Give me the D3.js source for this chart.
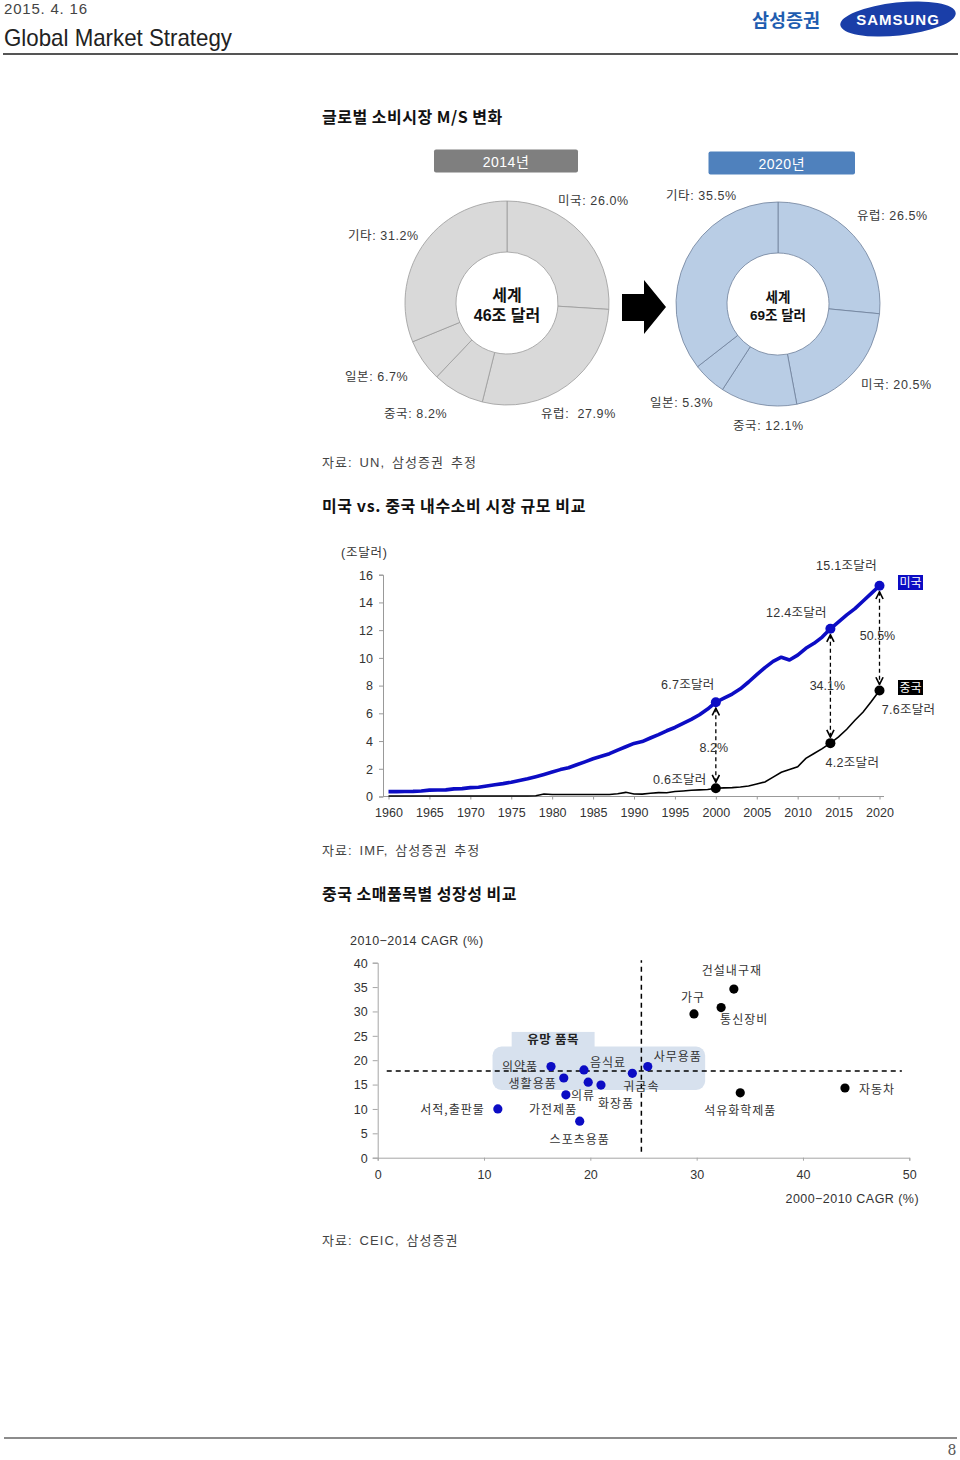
<!DOCTYPE html>
<html><head><meta charset="utf-8">
<script src="https://cdn.jsdelivr.net/npm/d3@7/dist/d3.min.js"></script>
<style>
body{margin:0;background:#fff}
svg{display:block}
text{font-family:"Liberation Sans","Noto Sans CJK KR",sans-serif}
</style>
</head><body>
<svg id="c" width="960" height="1460"></svg>
<script>
// ---------------- DATA ----------------
const share2014Labels = ["미국: 26.0%", "유럽:  27.9%", "중국: 8.2%", "일본: 6.7%", "기타: 31.2%"];
const share2014Values = [26.0, 27.9, 8.2, 6.7, 31.2];
const share2020Labels = ["유럽: 26.5%", "미국: 20.5%", "중국: 12.1%", "일본: 5.3%", "기타: 35.5%"];
const share2020Values = [26.5, 20.5, 12.1, 5.3, 35.5];

const years = [1960,1961,1962,1963,1964,1965,1966,1967,1968,1969,1970,1971,1972,1973,1974,1975,1976,1977,1978,1979,
  1980,1981,1982,1983,1984,1985,1986,1987,1988,1989,1990,1991,1992,1993,1994,1995,1996,1997,1998,1999,
  2000,2001,2002,2003,2004,2005,2006,2007,2008,2009,2010,2011,2012,2013,2014,2015,2016,2017,2018,2019,2020];
const usConsumption = [0.35,0.35,0.36,0.37,0.40,0.46,0.47,0.48,0.55,0.57,0.64,0.67,0.76,0.85,0.93,1.03,1.15,1.28,1.43,1.59,
  1.76,1.94,2.07,2.29,2.50,2.72,2.90,3.09,3.35,3.59,3.83,3.96,4.22,4.47,4.74,4.98,5.27,5.56,5.90,6.31,
  6.80,7.10,7.39,7.77,8.26,8.79,9.30,9.75,10.05,9.85,10.20,10.69,11.05,11.50,12.10,12.60,13.10,13.55,14.10,14.65,15.20];
const chinaConsumption = [0.04,0.04,0.04,0.04,0.04,0.04,0.04,0.04,0.04,0.04,0.04,0.04,0.04,0.04,0.04,0.04,0.04,0.04,0.05,0.18,
  0.14,0.14,0.14,0.14,0.14,0.14,0.14,0.14,0.20,0.30,0.18,0.17,0.24,0.28,0.27,0.36,0.40,0.45,0.48,0.50,
  0.60,0.62,0.64,0.68,0.76,0.90,1.05,1.40,1.75,1.95,2.15,2.75,3.10,3.45,3.85,4.30,4.85,5.50,6.10,6.85,7.65];
const lineYTicks = [0,2,4,6,8,10,12,14,16];
const lineXTicks = [1960,1965,1970,1975,1980,1985,1990,1995,2000,2005,2010,2015,2020];
const markYears = [2000, 2014, 2020];
const usMarkLabels = ["6.7조달러", "12.4조달러", "15.1조달러"];
const chinaMarkLabels = ["0.6조달러", "4.2조달러", "7.6조달러"];
const gapLabels = ["8.2%", "34.1%", "50.5%"];

const itemNames = ["의약품","음식료","생활용품","의류","가전제품","화장품","스포츠용품","서적,출판물","귀금속","사무용품",
  "건설내구재","가구","통신장비","석유화학제품","자동차"];
const itemCagr0010 = [16.3,19.4,17.5,17.7,19.8,21.0,19.0,11.3,23.95,25.4,33.5,29.75,32.3,34.1,43.95];
const itemCagr1014 = [18.7,18.0,16.35,12.9,15.5,14.9,7.5,10.0,17.3,18.7,34.6,29.5,30.8,13.3,14.3];
const itemPromising = [true,true,true,true,true,true,true,true,true,true,false,false,false,false,false];
const scatterTicksX = [0,10,20,30,40,50];
const scatterTicksY = [0,5,10,15,20,25,30,35,40];
const thresholdX = 24.8;
const thresholdY = 17.8;

// ---------------- LAYOUT ----------------
const svg = d3.select("#c");
svg.append("rect").attr("width",960).attr("height",1460).attr("fill","#fff");
const TXT = "#333";

// header
svg.append("text").attr("x",4).attr("y",14).attr("font-size",15).attr("fill","#444").attr("textLength",83)
  .attr("lengthAdjust","spacing")
  .style("font-family","'Liberation Sans Narrow','Liberation Sans'").text("2015. 4. 16");
svg.append("text").attr("x",4).attr("y",46).attr("font-size",24).attr("fill","#222")
  .attr("textLength",228).attr("lengthAdjust","spacingAndGlyphs")
  .style("font-family","'Liberation Sans Narrow','Liberation Sans'").text("Global Market Strategy");
svg.append("line").attr("x1",3).attr("x2",958).attr("y1",54).attr("y2",54).attr("stroke","#555").attr("stroke-width",2);
svg.append("text").attr("x",752).attr("y",27).attr("font-size",18).attr("font-weight","bold").attr("fill","#1f5db0")
  .attr("textLength",68).attr("lengthAdjust","spacingAndGlyphs")
  .style("font-family","'Noto Sans CJK KR'").text("삼성증권");
svg.append("ellipse").attr("cx",898).attr("cy",19).attr("rx",58).attr("ry",16.5)
  .attr("transform","rotate(-6,898,19)").attr("fill","#1a3ea8");
svg.append("text").attr("x",898).attr("y",25).attr("text-anchor","middle").attr("font-size",15).attr("font-weight","bold")
  .attr("fill","#fff").attr("letter-spacing",1).text("SAMSUNG");

// footer
svg.append("line").attr("x1",4).attr("x2",957).attr("y1",1438).attr("y2",1438).attr("stroke","#666").attr("stroke-width",1.5);
svg.append("text").attr("x",952).attr("y",1455).attr("text-anchor","middle").attr("font-size",14).attr("fill","#555")
  .style("font-family","'DejaVu Serif'").text("8");

function title(y, t, ls){
  svg.append("text").attr("x",322).attr("y",y).attr("font-size",16).attr("font-weight","bold").attr("fill","#111")
    .attr("letter-spacing",ls).style("font-family","'Noto Sans CJK KR'").text(t);
}
function source(y, t){
  svg.append("text").attr("x",322).attr("y",y).attr("font-size",13).attr("fill","#444").attr("letter-spacing",1.1)
    .attr("word-spacing",2).text(t);
}

// ---------------- SECTION 1: DONUTS ----------------
title(123, "글로벌 소비시장 M/S 변화", 0.5);

function donut(cx, cy, values, labels, fill, stroke, header, headerFill, center, centerSize, labelPos){
  const g = svg.append("g");
  g.append("rect").attr("x",header[0]).attr("y",header[1]).attr("width",header[2]).attr("height",23)
    .attr("rx",2).attr("fill",headerFill);
  g.append("text").attr("x",header[0]+header[2]/2).attr("y",header[1]+17).attr("text-anchor","middle")
    .attr("font-size",14).attr("fill","#fff").attr("letter-spacing",0.5).text(header[3]);
  const pie = d3.pie().sort(null)(values);
  const arc = d3.arc().innerRadius(51).outerRadius(102);
  g.selectAll("path.s").data(pie).join("path").attr("class","s")
    .attr("transform",`translate(${cx},${cy})`).attr("d",arc)
    .attr("fill",fill).attr("stroke",stroke).attr("stroke-width",0.8);
  g.append("text").attr("x",cx).attr("y",cy-2).attr("text-anchor","middle").attr("font-size",centerSize)
    .attr("font-weight","bold").attr("fill","#111").text("세계");
  g.append("text").attr("x",cx).attr("y",cy+centerSize+2).attr("text-anchor","middle").attr("font-size",centerSize)
    .attr("font-weight","bold").attr("fill","#111").text(center);
  labels.forEach((l,i)=>{
    g.append("text").attr("x",labelPos[i][0]).attr("y",labelPos[i][1]).attr("font-size",12.5)
      .attr("letter-spacing",0.6)
      .attr("fill","#3a3a3a").attr("xml:space","preserve").style("white-space","pre").text(l);
  });
}
donut(507, 303, share2014Values, share2014Labels, "#d9d9d9", "#9a9a9a",
  [434,149.5,144,"2014년"], "#7f7f7f", "46조 달러", 16,
  [[558,205],[541,418],[384,418],[345,381],[348,240]]);
donut(778, 304, share2020Values, share2020Labels, "#b9cde5", "#6f809a",
  [708.5,151.5,146.5,"2020년"], "#4f81bd", "69조 달러", 13.5,
  [[857,220],[861,389],[733,430],[650,407],[666,200]]);

// arrow
svg.append("path").attr("d","M622,294 L644,294 L644,280 L666,307 L644,334 L644,321 L622,321 Z").attr("fill","#000");

source(467, "자료: UN, 삼성증권 추정");

// ---------------- SECTION 2: LINE CHART ----------------
title(512, "미국 vs. 중국 내수소비 시장 규모 비교", 0.6);

const lx = d3.scaleLinear().domain([1960,2020]).range([388.5,879.5]);
const ly = d3.scaleLinear().domain([0,16]).range([796.5,574.7]);
const lg = svg.append("g");
lg.append("text").attr("x",341).attr("y",557).attr("font-size",12.5).attr("fill",TXT).attr("letter-spacing",0.8).text("(조달러)");

const yAx = lg.append("g").attr("transform","translate(383,0)")
  .call(d3.axisLeft(ly).tickValues(lineYTicks).tickSize(4).tickPadding(6).tickFormat(d3.format("d")));
const xAx = lg.append("g").attr("transform","translate(0,796.5)")
  .call(d3.axisBottom(lx).tickValues(lineXTicks).tickSize(3).tickPadding(9).tickFormat(d3.format("d")));
[yAx,xAx].forEach(a=>{
  a.select(".domain").attr("stroke","#999");
  a.selectAll(".tick line").attr("stroke","#999");
  a.selectAll("text").attr("font-size",12.5).attr("fill",TXT).style("font-family","'Liberation Sans'");
});
xAx.select(".domain").attr("d","M383,0H884");
yAx.selectAll("text").attr("dy","0.35em");

const lineGen = d3.line().x((d,i)=>lx(years[i])).y(d=>ly(d));
lg.append("path").attr("d",lineGen(chinaConsumption)).attr("fill","none").attr("stroke","#000").attr("stroke-width",1.6);
lg.append("path").attr("d",lineGen(usConsumption)).attr("fill","none").attr("stroke","#0c0cc4").attr("stroke-width",3.6)
  .attr("stroke-linejoin","round");

const defs = svg.append("defs");
defs.append("marker").attr("id","ah").attr("viewBox","0 0 10 10").attr("refX",9).attr("refY",5)
  .attr("markerWidth",9).attr("markerHeight",9).attr("markerUnits","userSpaceOnUse").attr("orient","auto-start-reverse")
  .append("path").attr("d","M1,1 L9,5 L1,9").attr("fill","none").attr("stroke","#000").attr("stroke-width",1.8);

const usLabelOff = [[-28,-13],[-34,-12],[-33,-16]];
const cnLabelOff = [[-36,-4],[22,24],[29,24]];
const gapOff = [[-2,6.5],[-3,4],[-2,2]];
markYears.forEach((yr,k)=>{
  const i = years.indexOf(yr);
  const x = lx(yr), yu = ly(usConsumption[i]), yc = ly(chinaConsumption[i]);
  lg.append("line").attr("x1",x).attr("x2",x).attr("y1",yu+6).attr("y2",yc-6)
    .attr("stroke","#000").attr("stroke-width",1.3).attr("stroke-dasharray","4,3")
    .attr("marker-start","url(#ah)").attr("marker-end","url(#ah)");
  lg.append("circle").attr("cx",x).attr("cy",yu).attr("r",5).attr("fill","#0c0cc4");
  lg.append("circle").attr("cx",x).attr("cy",yc).attr("r",5).attr("fill","#000");
  lg.append("text").attr("x",x+usLabelOff[k][0]).attr("y",yu+usLabelOff[k][1]).attr("text-anchor","middle")
    .attr("font-size",12.5).attr("letter-spacing",0.3).attr("fill",TXT).text(usMarkLabels[k]);
  lg.append("text").attr("x",x+cnLabelOff[k][0]).attr("y",yc+cnLabelOff[k][1]).attr("text-anchor","middle")
    .attr("font-size",12.5).attr("letter-spacing",0.3).attr("fill",TXT).text(chinaMarkLabels[k]);
  lg.append("text").attr("x",x+gapOff[k][0]).attr("y",(yu+yc)/2+gapOff[k][1]).attr("text-anchor","middle")
    .attr("font-size",12.5).attr("fill",TXT).text(gapLabels[k]);
});
// legend tags
[["미국","#0c0cc4",575],["중국","#000",680]].forEach(t=>{
  lg.append("rect").attr("x",898).attr("y",t[2]).attr("width",25).attr("height",15).attr("fill",t[1]);
  lg.append("text").attr("x",910.5).attr("y",t[2]+12).attr("text-anchor","middle").attr("font-size",12)
    .attr("fill","#fff").text(t[0]);
});

source(855, "자료: IMF, 삼성증권 추정");

// ---------------- SECTION 3: SCATTER ----------------
title(900, "중국 소매품목별 성장성 비교", 0.5);

const sx = d3.scaleLinear().domain([0,50]).range([377.7,909.3]);
const sy = d3.scaleLinear().domain([0,40]).range([1157.7,962.7]);
const sg = svg.append("g");
sg.append("text").attr("x",350).attr("y",945).attr("font-size",12.5).attr("fill",TXT).attr("letter-spacing",0.45)
  .text("2010−2014 CAGR (%)");
sg.append("text").attr("x",919).attr("y",1203).attr("text-anchor","end").attr("font-size",12.5).attr("fill",TXT)
  .attr("letter-spacing",0.45).text("2000−2010 CAGR (%)");

// highlight area
sg.append("rect").attr("x",sx(12.6)).attr("y",sy(25.8)).attr("width",sx(20.4)-sx(12.6)).attr("height",sy(22.5)-sy(25.8))
  .attr("fill","#d7e1ee");
sg.append("rect").attr("x",sx(10.8)).attr("y",sy(22.8)).attr("width",sx(30.8)-sx(10.8)).attr("height",sy(13.9)-sy(22.8))
  .attr("rx",9).attr("fill","#d7e1ee");
sg.append("text").attr("x",(sx(12.6)+sx(20.4))/2).attr("y",sy(22.8)-3).attr("text-anchor","middle")
  .attr("font-size",12.5).attr("font-weight","bold").attr("letter-spacing",0.5).attr("fill","#222").text("유망 품목");

const syAx = sg.append("g").attr("transform",`translate(${sx(0)},0)`)
  .call(d3.axisLeft(sy).tickValues(scatterTicksY).tickSize(5).tickPadding(5).tickFormat(d3.format("d")));
const sxAx = sg.append("g").attr("transform",`translate(0,${sy(0)})`)
  .call(d3.axisBottom(sx).tickValues(scatterTicksX).tickSize(3).tickPadding(9).tickFormat(d3.format("d")));
[syAx,sxAx].forEach(a=>{
  a.select(".domain").attr("stroke","#a6a6a6");
  a.selectAll(".tick line").attr("stroke","#a6a6a6");
  a.selectAll("text").attr("font-size",12.5).attr("fill",TXT).style("font-family","'Liberation Sans'");
});
syAx.selectAll("text").attr("dy","0.35em");

// thresholds
sg.append("line").attr("x1",sx(0.85)).attr("x2",sx(49.3)).attr("y1",sy(thresholdY)).attr("y2",sy(thresholdY))
  .attr("stroke","#000").attr("stroke-width",1.5).attr("stroke-dasharray","5,4");
sg.append("line").attr("x1",sx(thresholdX)).attr("x2",sx(thresholdX)).attr("y1",sy(1.2)).attr("y2",sy(40.5))
  .attr("stroke","#000").attr("stroke-width",1.5).attr("stroke-dasharray","5,4");

// label offsets (px): dx, dy, anchor
const itemLabelOff = {
  "의약품":[-13,4,"end"], "음식료":[6,-3,"start"], "생활용품":[-7,10,"end"], "의류":[5,5,"start"],
  "가전제품":[-11,32,"end"], "화장품":[-3,23,"start"], "스포츠용품":[0,23,"middle"], "서적,출판물":[-13,5,"end"],
  "귀금속":[-9,18,"start"], "사무용품":[6,-6,"start"], "건설내구재":[-2,-14,"middle"], "가구":[-1,-12,"middle"],
  "통신장비":[-1,16,"start"], "석유화학제품":[0,22,"middle"], "자동차":[14,6,"start"]
};
itemNames.forEach((n,i)=>{
  const x = sx(itemCagr0010[i]), y = sy(itemCagr1014[i]);
  const o = itemLabelOff[n];
  sg.append("text").attr("x",x+o[0]).attr("y",y+o[1]).attr("text-anchor",o[2]).attr("font-size",12)
    .attr("letter-spacing",1).attr("fill",TXT).style("font-family","'Noto Sans CJK KR'").text(n);
});
itemNames.forEach((n,i)=>{
  sg.append("circle").attr("cx",sx(itemCagr0010[i])).attr("cy",sy(itemCagr1014[i])).attr("r",4.6)
    .attr("fill",itemPromising[i] ? "#0c0cc4" : "#000");
});

source(1245, "자료: CEIC, 삼성증권");
</script>
</body></html>
